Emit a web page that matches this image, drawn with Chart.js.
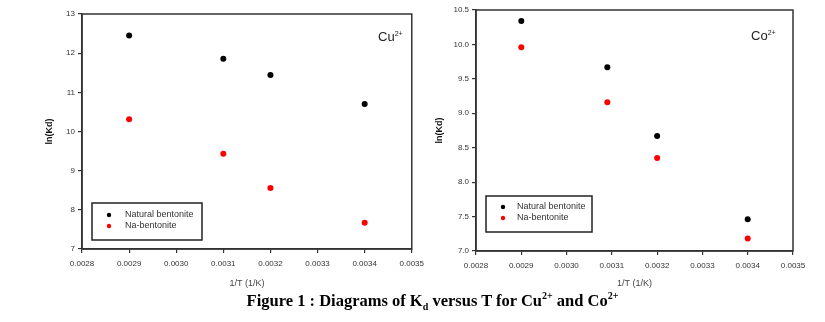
<!DOCTYPE html>
<html>
<head>
<meta charset="utf-8">
<script src="https://cdn.jsdelivr.net/npm/chart.js@4.4.0/dist/chart.umd.min.js"></script>
<style>
  body { margin: 0; background: #fff; width: 825px; height: 322px; position: relative; overflow: hidden; }
  canvas { position: absolute; top: 0; }
  #c1 { left: 0; }
  #c2 { left: 430px; }
  .ion { position: absolute; font-family: "Liberation Sans", Arial, sans-serif; font-size: 13px; line-height: 15px; color: #222; }
  .ion sup { font-size: 7px; }
  #caption { position: absolute; left: 0; width: 865px; top: 286px; text-align: center; line-height: 20px;
    font-family: "Liberation Serif", "Times New Roman", serif; font-weight: bold; font-size: 16.5px; color: #000; }
  #caption sub, #caption sup { font-size: 10px; }
</style>
</head>
<body>
<canvas id="c1" width="430" height="289"></canvas>
<canvas id="c2" width="395" height="289"></canvas>
<div class="ion" style="left:378px; top:26px;">Cu<sup>2+</sup></div>
<div class="ion" style="left:751px; top:25px;">Co<sup>2+</sup></div>
<div id="caption">Figure 1 : Diagrams of K<sub>d</sub> versus T for Cu<sup>2+</sup> and Co<sup>2+</sup></div>
<script>
var seriesNames = ['Natural bentonite', 'Na-bentonite'];

var cuX = [0.0029, 0.0031, 0.0032, 0.0034];
var cuNatural = [12.45, 11.86, 11.44, 10.70];
var cuNa = [10.31, 9.43, 8.56, 7.67];

var coX = [0.0029, 0.00309, 0.0032, 0.0034];
var coNatural = [10.34, 9.67, 8.67, 7.46];
var coNa = [9.96, 9.16, 8.35, 7.18];

var xTicks = [0.0028, 0.0029, 0.0030, 0.0031, 0.0032, 0.0033, 0.0034, 0.0035];

function pts(xs, ys) {
  return xs.map(function(x, i) { return { x: x, y: ys[i] }; });
}

// frame round the plot area
var frame = {
  id: 'frame',
  afterDraw: function(chart) {
    var a = chart.chartArea, ctx = chart.ctx;
    ctx.save();
    ctx.strokeStyle = '#333';
    ctx.lineWidth = 1.5;
    ctx.strokeRect(a.left, a.top, a.right - a.left, a.bottom - a.top);
    ctx.restore();
  }
};

// legend drawn as a boxed list inside the plot
var boxLegend = {
  id: 'boxLegend',
  afterDraw: function(chart, args, o) {
    var ctx = chart.ctx;
    ctx.save();
    ctx.strokeStyle = '#222';
    ctx.lineWidth = 1.5;
    ctx.strokeRect(o.x, o.y, o.w, o.h);
    ctx.font = '9px "Liberation Sans", Arial, sans-serif';
    ctx.textBaseline = 'middle';
    chart.data.datasets.forEach(function(ds, i) {
      var yy = o.y + o.row0 + i * o.gap;
      ctx.fillStyle = ds.backgroundColor;
      ctx.beginPath();
      ctx.arc(o.x + o.mark, yy, 2.2, 0, Math.PI * 2);
      ctx.fill();
      ctx.fillStyle = '#333';
      ctx.fillText(ds.label, o.x + o.text, yy);
    });
    ctx.restore();
  }
};

function makeChart(id, xs, nat, na, yMin, yMax, yStep, yDigits, pad, yWidth, xHeight, legend) {
  return new Chart(document.getElementById(id), {
    type: 'scatter',
    data: {
      datasets: [
        { label: seriesNames[0], data: pts(xs, nat), backgroundColor: '#000', borderColor: '#000', borderWidth: 0, pointRadius: 3 },
        { label: seriesNames[1], data: pts(xs, na), backgroundColor: '#f00', borderColor: '#f00', borderWidth: 0, pointRadius: 3 }
      ]
    },
    options: {
      responsive: false,
      animation: false,
      layout: { padding: pad },
      plugins: { legend: { display: false }, tooltip: { enabled: false }, boxLegend: legend },
      scales: {
        x: {
          type: 'linear', min: 0.0028, max: 0.0035,
          afterBuildTicks: function(s) { s.ticks = xTicks.map(function(v) { return { value: v }; }); },
          afterFit: function(s) { s.height = xHeight; },
          ticks: { callback: function(v) { return v.toFixed(4); }, font: { size: 8, family: 'Liberation Sans' }, color: '#333', padding: 6, maxRotation: 0 },
          grid: { drawOnChartArea: false, tickLength: 4, color: '#333', lineWidth: 1.2 },
          border: { color: '#333', width: 1.5 },
          title: { display: true, text: '1/T (1/K)', font: { size: 9, family: 'Liberation Sans' }, color: '#444', padding: 0 }
        },
        y: {
          min: yMin, max: yMax,
          afterFit: function(s) { s.width = yWidth; },
          ticks: { stepSize: yStep, callback: function(v) { return v.toFixed(yDigits); }, font: { size: 8, family: 'Liberation Sans' }, color: '#333', padding: 3 },
          grid: { drawOnChartArea: false, tickLength: 4, color: '#333', lineWidth: 1.2 },
          border: { color: '#333', width: 1.5 },
          title: { display: true, text: 'ln(Kd)', font: { size: 9, weight: 'bold', family: 'Liberation Sans' }, color: '#111', padding: 0 }
        }
      }
    },
    plugins: [frame, boxLegend]
  });
}

makeChart('c1', cuX, cuNatural, cuNa, 7, 13, 1, 0,
  { left: 44, top: 14, right: 17, bottom: 0 }, 38, 40,
  { x: 92, y: 203, w: 110, h: 37, row0: 12, gap: 11, mark: 17, text: 33 });

makeChart('c2', coX, coNatural, coNa, 7, 10.5, 0.5, 1,
  { left: 4, top: 10, right: 32, bottom: 0 }, 42, 38,
  { x: 56, y: 196, w: 106, h: 36, row0: 11, gap: 11, mark: 17, text: 31 });
</script>
</body>
</html>
